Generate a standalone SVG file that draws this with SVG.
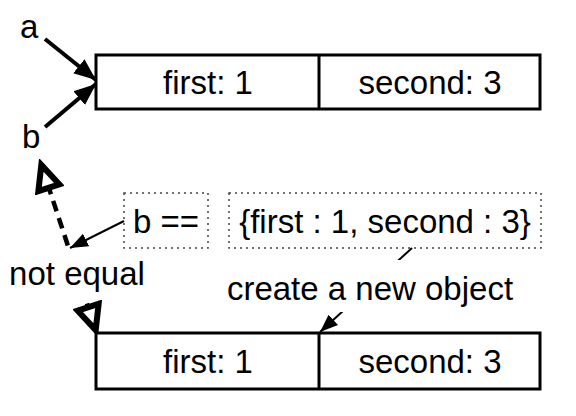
<svg xmlns="http://www.w3.org/2000/svg" width="576" height="416" viewBox="0 0 576 416">
<style>
text{font-family:"Liberation Sans",Arial,sans-serif;font-size:33px;fill:#000}
.box{fill:#fff;stroke:#000;stroke-width:3}
.dot{fill:none;stroke:#444;stroke-width:1.5;stroke-dasharray:2 4}
.solid{fill:none;stroke:#000;stroke-width:4}
.thin{fill:none;stroke:#000;stroke-width:2}
.dash{fill:none;stroke:#000;stroke-width:4.5;stroke-dasharray:11 7}
.lbl{fill:#fff;stroke:none}
</style>
<defs>
<marker id="fa" markerUnits="userSpaceOnUse" markerWidth="24" markerHeight="20" refX="22" refY="10" orient="auto">
<path d="M0,1 L22,10 L0,19 Z" fill="#000"/>
</marker>
<marker id="fs" markerUnits="userSpaceOnUse" markerWidth="20" markerHeight="16" refX="18" refY="8" orient="auto">
<path d="M0,1 L18,8 L0,15 Z" fill="#000"/>
</marker>
<marker id="oa" markerUnits="userSpaceOnUse" markerWidth="34" markerHeight="30" refX="29" refY="15" orient="auto-start-reverse">
<path d="M4,4 L28,15 L4,26 Z" fill="#fff" stroke="#000" stroke-width="6" stroke-linejoin="miter"/>
</marker>
</defs>
<g id="connectors">
<line class="solid" x1="45" y1="39" x2="96" y2="80" marker-end="url(#fa)"/>
<line class="solid" x1="45" y1="127" x2="96" y2="84" marker-end="url(#fa)"/>
<line class="dash" x1="96" y1="331" x2="41" y2="164" marker-start="url(#oa)" marker-end="url(#oa)"/>
<line class="thin" x1="124" y1="221" x2="70" y2="248" marker-end="url(#fs)"/>
<line class="thin" x1="412" y1="248" x2="320" y2="332" marker-end="url(#fs)"/>
</g>
<g id="label-a"><text x="20" y="38">a</text></g>
<g id="label-b"><text x="22" y="148">b</text></g>
<g id="top-object">
<rect class="box" x="96" y="55" width="444" height="54"/>
<line x1="319" y1="55" x2="319" y2="109" stroke="#000" stroke-width="3"/>
<text x="208" y="94" text-anchor="middle">first: 1</text>
<text x="430" y="94" text-anchor="middle">second: 3</text>
</g>
<g id="b-eq">
<rect class="dot" x="124" y="193" width="84" height="55"/>
<text x="166" y="233" text-anchor="middle">b ==</text>
</g>
<g id="literal">
<rect class="dot" x="229" y="193" width="312" height="55"/>
<text x="385" y="233" text-anchor="middle">{first : 1, second : 3}</text>
</g>
<g id="not-equal">
<rect class="lbl" x="6" y="251" width="142" height="48"/>
<text x="77" y="285" text-anchor="middle">not equal</text>
</g>
<g id="create-label">
<rect class="lbl" x="220" y="260" width="300" height="52"/>
<text x="370" y="300" text-anchor="middle">create a new object</text>
</g>
<g id="bottom-object">
<rect class="box" x="96" y="333" width="444" height="56"/>
<line x1="319" y1="333" x2="319" y2="389" stroke="#000" stroke-width="3"/>
<text x="208" y="373" text-anchor="middle">first: 1</text>
<text x="430" y="373" text-anchor="middle">second: 3</text>
</g>
</svg>
